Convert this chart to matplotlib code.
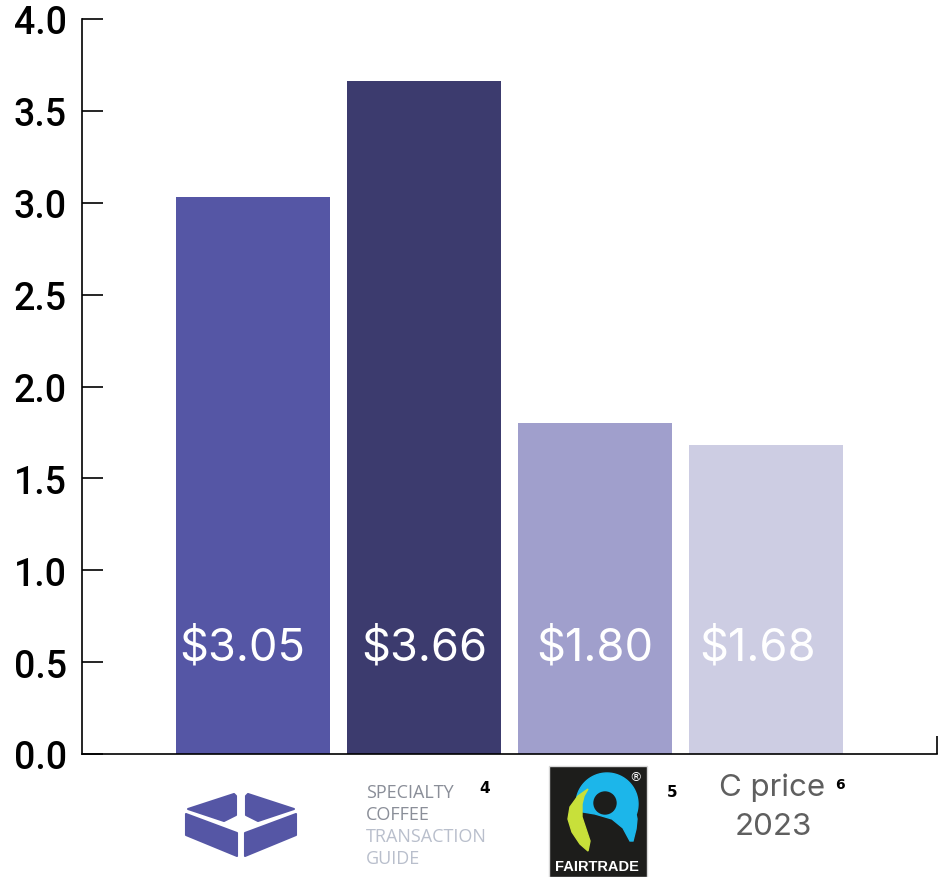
import matplotlib
matplotlib.use("Agg")
import numpy as np
import matplotlib.pyplot as plt
from matplotlib.patches import Polygon, Rectangle, Circle

# chart data
categories = ["Box", "SCTG", "Fairtrade", "C price 2023"]
prices = [3.03, 3.66, 1.80, 1.68]
price_labels = ["$3.05", "$3.66", "$1.80", "$1.68"]
bar_colors = ["#5556a5", "#3c3b6e", "#a09fcc", "#cdcde3"]
y_ticks = [0.0, 0.5, 1.0, 1.5, 2.0, 2.5, 3.0, 3.5, 4.0]

W, H = 946, 878
fig = plt.figure(figsize=(W / 100, H / 100), dpi=100)
ax = fig.add_axes([82 / W, 1 - 755 / H, 855 / W, 735 / H])

x = list(range(len(categories)))
ax.bar(x, prices, width=0.9, color=bar_colors)

label_shift = [-0.06, 0.0, 0.0, -0.05]
for xi, lab, dx in zip(x, price_labels, label_shift):
    ax.text(xi + dx, 0.58, lab, color="white", fontsize=32.5, family=["Inter", "DejaVu Sans"],
            ha="center", va="center")

ax.set_xlim(-1, 4)
ax.set_ylim(0, 4.0)
ax.set_yticks(y_ticks)
ax.set_yticklabels([f"{t:.1f}" for t in y_ticks],
                   family=["Roboto", "DejaVu Sans"],
                   fontsize=27, fontweight="medium")
ax.tick_params(axis="y", direction="in", length=15, width=1.2, pad=11)
ax.set_xticks([4.0], [""])
ax.tick_params(axis="x", direction="in", length=13, width=1.2)
for s in ["top", "right"]:
    ax.spines[s].set_visible(False)
for s in ["left", "bottom"]:
    ax.spines[s].set_linewidth(1.2)

# overlay in pixel coords for the category "logos"
ov = fig.add_axes([0, 0, 1, 1], zorder=5)
ov.set_xlim(0, W)
ov.set_ylim(H, 0)
ov.axis("off")

# box icon
box_col = "#5556a5"
for pts in [
    [(188, 810), (234, 795), (236, 797), (236, 816), (224, 822)],
    [(294, 810), (248, 795), (246, 797), (246, 816), (258, 822)],
    [(186, 815), (237, 834), (237, 857), (186, 836)],
    [(296, 815), (245, 834), (245, 857), (296, 836)],
]:
    ov.add_patch(Polygon(pts, closed=True, color=box_col, joinstyle="round", lw=1.5))

# specialty coffee transaction guide text
sctg_font = ["Open Sans", "DejaVu Sans"]
for txt, yy, col in [("SPECIALTY", 793, "#8a8e98"), ("COFFEE", 815, "#8a8e98"),
                     ("TRANSACTION", 837, "#b9bfcc"), ("GUIDE", 859, "#b9bfcc")]:
    ov.text(366, yy, txt, color=col, fontsize=13, family=sctg_font,
            va="center", ha="left")
ov.text(485, 789, "4", fontsize=11, fontweight="bold", va="center", ha="center")

# fairtrade mark
ov.add_patch(Rectangle((549, 767), 98, 111, facecolor="#1d1d1b", edgecolor="#d8d8d8", lw=1))
cx, cy, r = 607, 805, 31
t = np.radians(np.linspace(-20, 195, 60))
blue = [(cx + r * np.cos(a), cy - r * np.sin(a)) for a in t]
blue += [(577, 812), (595, 815), (612, 820), (623, 829), (630, 842),
         (633, 842), (636, 830), (637, 820)]
ov.add_patch(Polygon(blue, closed=True, color="#1cb6ea"))
ov.add_patch(Circle((605, 804), 11, color="#1d1d1b"))
leaf = [(588, 790), (578, 797), (570, 808), (568, 820), (572, 833), (580, 845), (588, 852),
        (590, 842), (586, 830), (582, 818), (582, 805), (584, 797)]
ov.add_patch(Polygon(leaf, closed=True, color="#c8e03a"))
ov.text(597, 867, "FAIRTRADE", color="white", fontsize=10.5, fontweight="bold",
        family=["Liberation Sans", "DejaVu Sans"], ha="center", va="center")
ov.text(635, 778, "®", color="white", fontsize=9, ha="center", va="center")
ov.text(672, 793, "5", fontsize=11, fontweight="bold", va="center", ha="center")

# C price
ov.text(772, 788, "C price", color="#5f5f5f", fontsize=22.5, family=["Inter", "DejaVu Sans"],
        ha="center", va="center")
ov.text(773, 827, "2023", color="#5f5f5f", fontsize=22.5, family=["Inter", "DejaVu Sans"],
        ha="center", va="center")
ov.text(840, 785, "6", fontsize=10, fontweight="bold", va="center", ha="center")

fig.savefig("out.png", dpi=100)
